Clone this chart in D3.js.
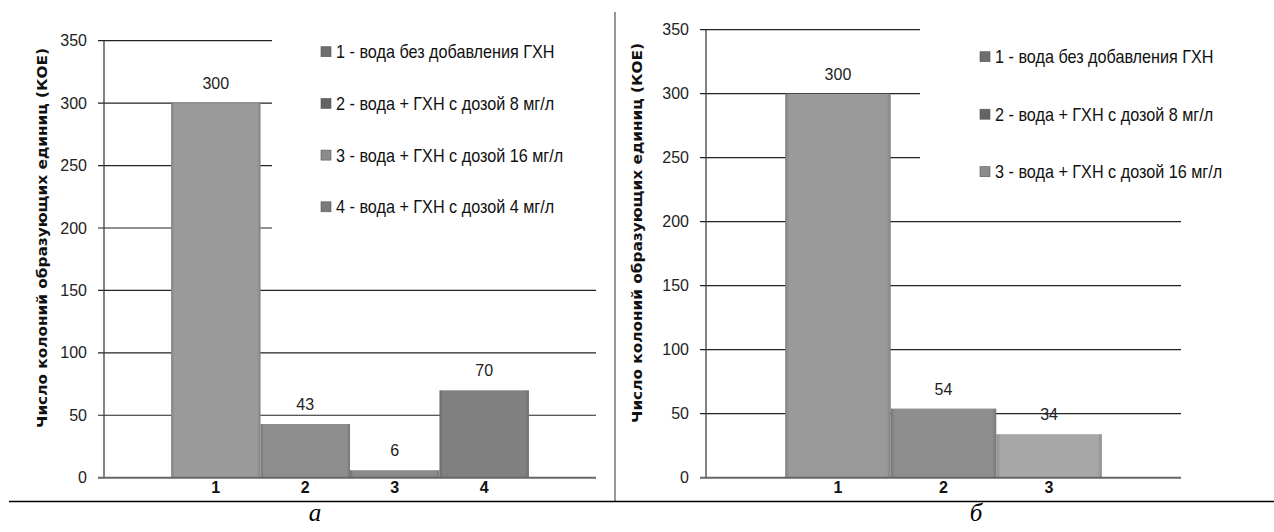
<!DOCTYPE html>
<html>
<head>
<meta charset="utf-8">
<script src="https://cdn.jsdelivr.net/npm/d3@7/dist/d3.min.js"></script>
<style>
  html, body { margin: 0; padding: 0; background: #fff; }
  svg { display: block; }
</style>
</head>
<body>
<svg id="chart" width="1274" height="532"></svg>
<script>
// ---- data ----
const categoriesA = ["1", "2", "3", "4"];
const valuesA = [300, 43, 6, 70];
const legendA = [
  "1 - вода без добавления ГХН",
  "2 - вода + ГХН с дозой 8 мг/л",
  "3 - вода + ГХН с дозой 16 мг/л",
  "4 - вода + ГХН с дозой 4 мг/л"
];
const categoriesB = ["1", "2", "3"];
const valuesB = [300, 54, 34];
const legendB = [
  "1 - вода без добавления ГХН",
  "2 - вода + ГХН с дозой 8 мг/л",
  "3 - вода + ГХН с дозой 16 мг/л"
];
const yTicks = [0, 50, 100, 150, 200, 250, 300, 350];
const yMax = 350;
const yTitle = "Число колоний образующих единиц (КОЕ)";
const captions = ["а", "б"];

// ---- styles ----
const barColorsA = ["#9b9b9b", "#8e8e8e", "#8a8a8a", "#808080"];
const markerColorsA = ["#6e6e6e", "#646464", "#8c8c8c", "#7a7a7a"];
const barColorsB = ["#9a9a9a", "#8e8e8e", "#a7a7a7"];
const markerColorsB = ["#6e6e6e", "#646464", "#8c8c8c"];

const svg = d3.select("#chart");

const defs = svg.append("defs");
function makeGrad(id, color) {
  const c = d3.color(color);
  const dark = c.darker(0.5).formatHex();
  const g = defs.append("linearGradient").attr("id", id)
    .attr("x1", "0").attr("x2", "1").attr("y1", "0").attr("y2", "0");
  g.append("stop").attr("offset", "0%").attr("stop-color", dark);
  g.append("stop").attr("offset", "4%").attr("stop-color", color);
  g.append("stop").attr("offset", "96%").attr("stop-color", color);
  g.append("stop").attr("offset", "100%").attr("stop-color", dark);
}

function drawPanel(p) {
  const g = svg.append("g");
  const y = d3.scaleLinear().domain([0, yMax]).range([p.y0, p.y1]);
  const x = d3.scaleBand().domain(p.categories).range([p.x0, p.x1])
    .paddingInner(0).paddingOuter(0.75);

  // gridlines
  g.append("g").selectAll("line").data(yTicks.filter(t => t > 0)).join("line")
    .attr("x1", p.x0 - 6)
    .attr("x2", d => d >= p.shortFrom ? p.shortEnd : p.x1)
    .attr("y1", d => y(d)).attr("y2", d => y(d))
    .attr("stroke", "#222").attr("stroke-width", 1.2);

  // y axis tick labels
  const axis = d3.axisLeft(y).tickValues(yTicks).tickSize(0).tickPadding(17);
  const ag = g.append("g").attr("transform", `translate(${p.x0},0)`).call(axis);
  ag.select(".domain").remove();
  ag.selectAll("text")
    .attr("font-family", "Liberation Sans, Arial, sans-serif")
    .attr("font-size", 16).attr("fill", "#222");

  g.append("line").attr("x1", p.x0).attr("x2", p.x0)
    .attr("y1", y(yMax)).attr("y2", y(0))
    .attr("stroke", "#333").attr("stroke-width", 1.2);

  // bars
  p.categories.forEach((c, i) => makeGrad(`grad-${p.id}-${i}`, p.colors[i]));
  g.append("g").selectAll("rect").data(p.values).join("rect")
    .attr("x", (d, i) => x(p.categories[i]))
    .attr("width", x.bandwidth())
    .attr("y", d => y(d))
    .attr("height", d => y(0) - y(d))
    .attr("fill", (d, i) => `url(#grad-${p.id}-${i})`);

  // zero line
  g.append("line").attr("x1", p.x0 - 6).attr("x2", p.x1)
    .attr("y1", y(0)).attr("y2", y(0))
    .attr("stroke", "#666").attr("stroke-width", 2);

  // value labels
  g.append("g").selectAll("text").data(p.values).join("text")
    .attr("x", (d, i) => x(p.categories[i]) + x.bandwidth() / 2)
    .attr("y", d => y(d) - 14)
    .attr("text-anchor", "middle")
    .attr("font-family", "Liberation Sans, Arial, sans-serif")
    .attr("font-size", 16).attr("fill", "#222")
    .text(d => d);

  // category labels
  g.append("g").selectAll("text").data(p.categories).join("text")
    .attr("x", d => x(d) + x.bandwidth() / 2)
    .attr("y", y(0) + 15)
    .attr("text-anchor", "middle")
    .attr("font-family", "Liberation Sans, Arial, sans-serif")
    .attr("font-weight", "bold")
    .attr("font-size", 16).attr("fill", "#111")
    .text(d => d);

  // y title
  g.append("text")
    .attr("transform", `translate(${p.titleX},${p.titleY}) rotate(-90)`)
    .attr("text-anchor", "middle")
    .attr("dy", "0.35em")
    .attr("font-family", "DejaVu Sans, Verdana, sans-serif")
    .attr("font-weight", "bold")
    .attr("font-size", 13.5).attr("fill", "#111")
    .attr("textLength", 380).attr("lengthAdjust", "spacingAndGlyphs")
    .text(yTitle);

  // legend
  const lg = g.append("g").selectAll("g").data(p.legend).join("g")
    .attr("transform", (d, i) => `translate(${p.legX},${p.legY0 + i * p.legStep})`);
  lg.append("rect").attr("x", 0).attr("y", -5).attr("width", 10).attr("height", 10)
    .attr("fill", (d, i) => p.markers[i]).attr("stroke", "#555").attr("stroke-width", 0.6);
  lg.append("text").attr("transform", "translate(15,0) scale(0.9,1)").attr("dy", "0.36em")
    .attr("font-family", "Liberation Sans, Arial, sans-serif")
    .attr("font-size", 18).attr("fill", "#111")
    .text(d => d);

  // caption
  svg.append("text")
    .attr("x", p.capX).attr("y", 521)
    .attr("text-anchor", "middle")
    .attr("font-family", "Liberation Serif, Times New Roman, serif")
    .attr("font-style", "italic")
    .attr("font-size", 25).attr("fill", "#000")
    .text(p.caption);
}

drawPanel({
  id: "a", categories: categoriesA, values: valuesA, legend: legendA,
  colors: barColorsA, markers: markerColorsA,
  x0: 104, x1: 596, y0: 477.7, y1: 40.7,
  shortFrom: 200, shortEnd: 272,
  titleX: 42, titleY: 238,
  legX: 321, legY0: 51.7, legStep: 51.7,
  capX: 315, caption: captions[0]
});

drawPanel({
  id: "b", categories: categoriesB, values: valuesB, legend: legendB,
  colors: barColorsB, markers: markerColorsB,
  x0: 706, x1: 1181, y0: 477.7, y1: 29.7,
  shortFrom: 250, shortEnd: 920,
  titleX: 637, titleY: 233,
  legX: 980, legY0: 56.7, legStep: 57.5,
  capX: 976, caption: captions[1]
});

svg.append("line").attr("x1", 615).attr("x2", 615).attr("y1", 12).attr("y2", 501)
  .attr("stroke", "#333").attr("stroke-width", 1);
svg.append("line").attr("x1", 9).attr("x2", 1274).attr("y1", 501.5).attr("y2", 501.5)
  .attr("stroke", "#000").attr("stroke-width", 1.5);
</script>
</body>
</html>
